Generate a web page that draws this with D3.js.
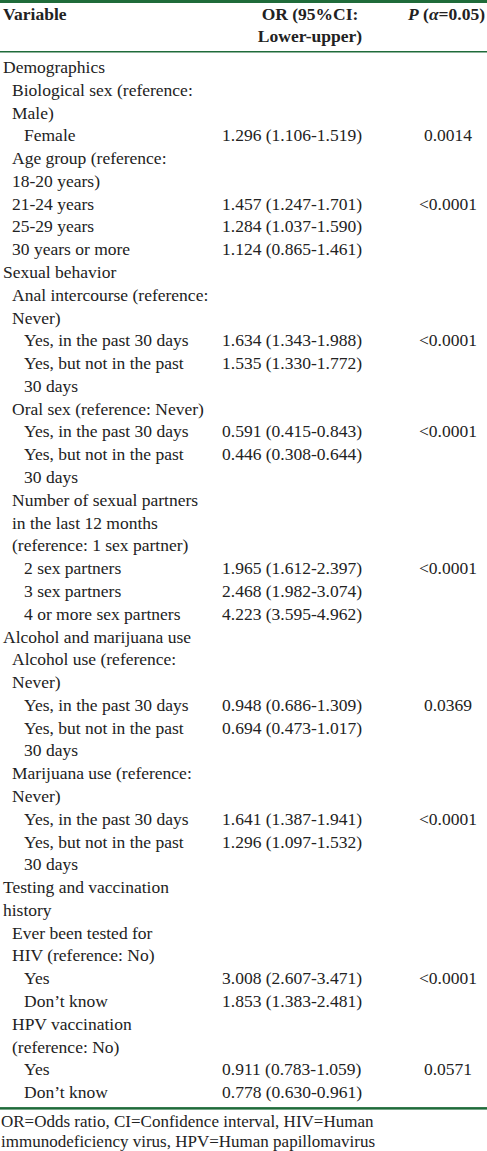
<!DOCTYPE html>
<html>
<head>
<meta charset="utf-8">
<script src="https://cdn.jsdelivr.net/npm/d3@7"></script>
<style>
  body { margin: 0; background: #fff; }
  svg text { font-family: "Liberation Serif", "DejaVu Serif", serif; font-size: 17.5px; fill: #222; }
</style>
</head>
<body>
<svg id="tbl"></svg>
<script>
// 행 데이터: [들여쓰기 수준, 변수 라벨 줄들]
const labels = [
  [0, ["Demographics"]],
  [1, ["Biological sex (reference:", "Male)"]],
  [2, ["Female"]],
  [1, ["Age group (reference:", "18-20 years)"]],
  [1, ["21-24 years"]],
  [1, ["25-29 years"]],
  [1, ["30 years or more"]],
  [0, ["Sexual behavior"]],
  [1, ["Anal intercourse (reference:", "Never)"]],
  [2, ["Yes, in the past 30 days"]],
  [2, ["Yes, but not in the past", "30 days"]],
  [1, ["Oral sex (reference: Never)"]],
  [2, ["Yes, in the past 30 days"]],
  [2, ["Yes, but not in the past", "30 days"]],
  [1, ["Number of sexual partners", "in the last 12 months", "(reference: 1 sex partner)"]],
  [2, ["2 sex partners"]],
  [2, ["3 sex partners"]],
  [2, ["4 or more sex partners"]],
  [0, ["Alcohol and marijuana use"]],
  [1, ["Alcohol use (reference:", "Never)"]],
  [2, ["Yes, in the past 30 days"]],
  [2, ["Yes, but not in the past", "30 days"]],
  [1, ["Marijuana use (reference:", "Never)"]],
  [2, ["Yes, in the past 30 days"]],
  [2, ["Yes, but not in the past", "30 days"]],
  [0, ["Testing and vaccination", "history"]],
  [1, ["Ever been tested for", "HIV (reference: No)"]],
  [2, ["Yes"]],
  [2, ["Don\u2019t know"]],
  [1, ["HPV vaccination", "(reference: No)"]],
  [2, ["Yes"]],
  [2, ["Don\u2019t know"]]
];
const orValues = ["", "", "1.296 (1.106-1.519)", "", "1.457 (1.247-1.701)", "1.284 (1.037-1.590)", "1.124 (0.865-1.461)",
  "", "", "1.634 (1.343-1.988)", "1.535 (1.330-1.772)", "", "0.591 (0.415-0.843)", "0.446 (0.308-0.644)",
  "", "1.965 (1.612-2.397)", "2.468 (1.982-3.074)", "4.223 (3.595-4.962)",
  "", "", "0.948 (0.686-1.309)", "0.694 (0.473-1.017)", "", "1.641 (1.387-1.941)", "1.296 (1.097-1.532)",
  "", "", "3.008 (2.607-3.471)", "1.853 (1.383-2.481)", "", "0.911 (0.783-1.059)", "0.778 (0.630-0.961)"];
const pValues = ["", "", "0.0014", "", "<0.0001", "", "",
  "", "", "<0.0001", "", "", "<0.0001", "",
  "", "<0.0001", "", "",
  "", "", "0.0369", "", "", "<0.0001", "",
  "", "", "<0.0001", "", "", "0.0571", ""];
const footnote = ["OR=Odds ratio, CI=Confidence interval, HIV=Human", "immunodeficiency virus, HPV=Human papillomavirus"];

const W = 487, H = 1151;
const lineH = 22.78;
const green = "#1f6b3a";
const firstLine = 68;
const indent = [3, 12, 24];
const orX = 222, pX = 448;

const svg = d3.select("#tbl").attr("width", W).attr("height", H);

// 위쪽 굵은 선
svg.append("rect").attr("x", 0).attr("y", 0).attr("width", W).attr("height", 3).attr("fill", green);

// 헤더
const hdr = svg.append("g");
hdr.append("text").attr("x", 3).attr("y", 20).style("font-weight", "bold").text("Variable");
hdr.append("text").attr("x", 310).attr("y", 20).attr("text-anchor", "middle").style("font-weight", "bold").text("OR (95%CI:");
hdr.append("text").attr("x", 310).attr("y", 42).attr("text-anchor", "middle").style("font-weight", "bold").text("Lower-upper)");
const ph = hdr.append("text").attr("x", 485).attr("y", 20).attr("text-anchor", "end").style("font-weight", "bold");
ph.append("tspan").style("font-style", "italic").text("P");
ph.append("tspan").text(" (");
ph.append("tspan").style("font-style", "italic").text("\u03b1");
ph.append("tspan").text("=0.05)");

svg.append("rect").attr("x", 0).attr("y", 51).attr("width", W).attr("height", 1.5).attr("fill", green);

// 본문 행
let line = 0;
labels.forEach((d, i) => {
  const y0 = firstLine + line * lineH + 5;
  d[1].forEach((t, k) => {
    svg.append("text").attr("x", indent[d[0]]).attr("y", y0 + k * lineH).text(t);
  });
  if (orValues[i]) svg.append("text").attr("x", orX).attr("y", y0).text(orValues[i]);
  if (pValues[i]) svg.append("text").attr("x", pX).attr("y", y0).attr("text-anchor", "middle").text(pValues[i]);
  line += d[1].length;
});

const bottomY = firstLine + (line - 1) * lineH + 14;
svg.append("rect").attr("x", 0).attr("y", bottomY).attr("width", W).attr("height", 2.5).attr("fill", green);

footnote.forEach((t, k) => {
  svg.append("text").attr("x", 1).attr("y", bottomY + 20 + k * 20).style("font-size", "17px").text(t);
});
</script>
</body>
</html>
